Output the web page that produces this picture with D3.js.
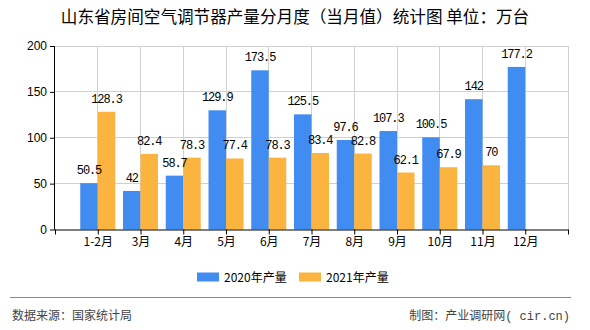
<!DOCTYPE html>
<html><head><meta charset="utf-8">
<script src="https://cdn.jsdelivr.net/npm/d3@7/dist/d3.min.js"></script>
<style>
body{margin:0;background:#fff;}
svg{display:block;}
text{font-family:"Noto Sans CJK SC","Noto Sans",sans-serif;}
</style></head><body>
<svg id="c" width="590" height="330"></svg>
<script>
const categories = ["1-2月","3月","4月","5月","6月","7月","8月","9月","10月","11月","12月"];
const series2020 = [50.5,42,58.7,129.9,173.5,125.5,97.6,107.3,100.5,142,177.2];
const series2021 = [128.3,82.4,78.3,77.4,78.3,83.4,82.8,62.1,67.9,70,null];
const seriesNames = ["2020年产量","2021年产量"];
const yTicks = [0,50,100,150,200];
const colors = ["#418CF0","#FCB441"];
const title = "山东省房间空气调节器产量分月度（当月值）统计图 单位：万台";

const svg = d3.select("#c");
const L = 55, R = 568, T = 46, B = 229.5;
const pad = ["__s", ...categories, "__e"];
const x = d3.scalePoint().domain(pad).range([L, R]);
const y = d3.scaleLinear().domain([0, 200]).range([B, T]);
const barW = 17.5;
const mono = "'Liberation Mono','DejaVu Sans Mono',monospace";

// title
svg.append("text").attr("x", 295).attr("y", 23).attr("text-anchor","middle")
  .attr("font-size", 16.6).attr("fill","#000").text(title);

// grid
const g = svg.append("g");
g.selectAll(".hg").data(yTicks.slice(1)).enter().append("line")
  .attr("x1", L).attr("x2", R).attr("y1", d=>y(d)).attr("y2", d=>y(d))
  .attr("stroke","#d0d0d0").attr("stroke-width",1).attr("shape-rendering","crispEdges");
g.selectAll(".vg").data(pad.slice(1)).enter().append("line")
  .attr("x1", d=>x(d)).attr("x2", d=>x(d)).attr("y1", T).attr("y2", B)
  .attr("stroke","#d0d0d0").attr("stroke-width",1).attr("shape-rendering","crispEdges");

// bars
const data = categories.map((c,i)=>({c, v:[series2020[i], series2021[i]]}));
const grp = svg.append("g").selectAll("g").data(data).enter().append("g");
[0,1].forEach(k=>{
  grp.filter(d=>d.v[k]!=null).append("rect")
    .attr("x", d=> x(d.c) + (k===0 ? -barW : 0))
    .attr("width", barW)
    .attr("y", d=> y(d.v[k]))
    .attr("height", d=> B - y(d.v[k]))
    .attr("fill", colors[k]);
});
[0,1].forEach(k=>{
  grp.filter(d=>d.v[k]!=null).append("text")
    .attr("x", d=> x(d.c) + (k===0 ? -barW/2 : barW/2))
    .attr("y", d=> y(d.v[k]) - 9)
    .attr("text-anchor","middle")
    .attr("font-size", 12)
    .attr("letter-spacing", -1.1)
    .style("font-family", mono)
    .attr("fill","#000")
    .text(d=> d.v[k]);
});

// axes
const xa = svg.append("g").attr("transform",`translate(0,${B})`)
  .call(d3.axisBottom(x).tickSize(5).tickPadding(3).tickFormat(d=> d.startsWith("__") ? "" : d));
xa.select(".domain").attr("stroke","#000").attr("d", `M${L},0.5H${R}`);
xa.selectAll(".tick line").attr("stroke","#000");
xa.selectAll(".tick text").attr("font-size",12).attr("fill","#000")
  .style("font-family","'Noto Sans CJK SC',sans-serif");

const ya = svg.append("g").attr("transform",`translate(${L},0)`)
  .call(d3.axisLeft(y).tickValues(yTicks).tickSize(5).tickPadding(3));
ya.select(".domain").attr("stroke","#000").attr("d", `M-0.5,${T}V${B}`);
ya.selectAll(".tick line").attr("stroke","#000");
ya.selectAll(".tick text").attr("font-size",12).attr("fill","#000")
  .style("font-family","'Liberation Sans',sans-serif");

// legend
const lg = svg.append("g");
const lx = [197, 299];
seriesNames.forEach((n,i)=>{
  lg.append("rect").attr("x", lx[i]).attr("y", 272.5).attr("width", 22).attr("height", 9).attr("fill", colors[i]);
  lg.append("text").attr("x", lx[i]+27).attr("y", 281.5).attr("font-size",12).attr("fill","#000").text(n);
});

// footer
svg.append("line").attr("x1",10).attr("x2",571).attr("y1",297.5).attr("y2",297.5)
  .attr("stroke","#888").attr("stroke-width",1);
svg.append("text").attr("x",12).attr("y",320).attr("font-size",12).attr("fill","#444").text("数据来源：国家统计局");
const ft = svg.append("text").attr("x",570).attr("y",320).attr("text-anchor","end").attr("font-size",12).attr("fill","#444");
ft.append("tspan").text("制图：产业调研网");
ft.append("tspan").style("font-family", mono).text("( cir.cn)");
</script>
</body></html>
